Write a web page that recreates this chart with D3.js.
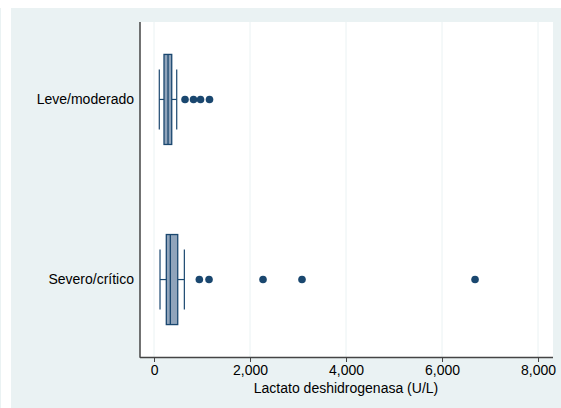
<!DOCTYPE html>
<html lang="es">
  <head>
    <meta charset="UTF-8" />
    <title>LDH box plot</title>
    <script src="https://d3js.org/d3.v7.min.js"></script>
    <style>
      body { margin: 0; background: #fff; }
      text { font-family: "Liberation Sans", Arial, Helvetica, sans-serif; fill: #000; }
    </style>
  </head>
  <body>
    <div id="chart"></div>
    <script>
      // data
      const categories = ["Leve/moderado", "Severo/crítico"];
      const whiskerLo = [110, 125];
      const q1 = [208, 256];
      const median = [292, 340];
      const q3 = [369, 494];
      const whiskerHi = [473, 632];
      const outliers = [
        [646, 823, 969, 1156],
        [944, 1146, 2271, 3083, 6688],
      ];
      const xTicks = [0, 2000, 4000, 6000, 8000];

      const W = 561, H = 408;
      const plot = { left: 140, right: 553, top: 22, bottom: 357 };
      const navy = "#1a476f";

      const svg = d3.select("#chart").append("svg")
        .attr("width", W).attr("height", H);

      // outer background
      svg.append("rect").attr("x", 11).attr("y", 8)
        .attr("width", W - 11).attr("height", H - 8).attr("fill", "#eaf2f3");
      svg.append("line").attr("x1", 0.5).attr("x2", 0.5).attr("y1", 8).attr("y2", H)
        .attr("stroke", "#eaf2f3");
      svg.append("rect").attr("x", plot.left).attr("y", plot.top)
        .attr("width", plot.right - plot.left).attr("height", plot.bottom - plot.top)
        .attr("fill", "#fff");

      var x = d3.scaleLinear().domain([-292, 8312]).range([plot.left, plot.right]);
      var y = d3.scalePoint().domain(categories).range([plot.top, plot.bottom]).padding(0.43);
      const step = y.step();

      // grid
      svg.append("g").selectAll("line").data(xTicks).join("line")
        .attr("x1", d => x(d)).attr("x2", d => x(d))
        .attr("y1", plot.top).attr("y2", plot.bottom)
        .attr("stroke", "#eaf2f3").attr("stroke-width", 1);

      // x axis
      const xAxis = svg.append("g")
        .attr("transform", `translate(0,${plot.bottom})`)
        .call(d3.axisBottom(x).tickValues(xTicks).tickSize(5).tickPadding(3)
          .tickFormat(d3.format(",")));
      xAxis.select(".domain").attr("stroke", "#444").attr("stroke-width", 1.5)
        .attr("d", `M${plot.left},0.5H${plot.right}`);
      xAxis.selectAll(".tick line").attr("stroke", "#444");
      xAxis.selectAll(".tick text").attr("font-size", 14).attr("fill", "#000");

      // y axis line + labels
      svg.append("line").attr("x1", plot.left).attr("x2", plot.left)
        .attr("y1", plot.top).attr("y2", plot.bottom + 0.75)
        .attr("stroke", "#444").attr("stroke-width", 1.5);
      svg.append("g").selectAll("text").data(categories).join("text")
        .attr("x", plot.left - 6).attr("y", d => y(d)).attr("dy", "0.35em")
        .attr("text-anchor", "end").attr("font-size", 14).text(d => d);

      svg.append("text").attr("x", (x(0) + x(8000)) / 2).attr("y", 393)
        .attr("text-anchor", "middle").attr("font-size", 14)
        .text("Lactato deshidrogenasa (U/L)");

      // boxes
      const g = svg.append("g");
      categories.forEach((c, i) => {
        const cy = y(c);
        const bh = step * 0.5, ch = step / 3;
        g.append("line").attr("x1", x(whiskerLo[i])).attr("x2", x(q1[i]))
          .attr("y1", cy).attr("y2", cy).attr("stroke", navy).attr("stroke-width", 1.2);
        g.append("line").attr("x1", x(q3[i])).attr("x2", x(whiskerHi[i]))
          .attr("y1", cy).attr("y2", cy).attr("stroke", navy).attr("stroke-width", 1.2);
        [whiskerLo[i], whiskerHi[i]].forEach(v => {
          g.append("line").attr("x1", x(v)).attr("x2", x(v))
            .attr("y1", cy - ch / 2).attr("y2", cy + ch / 2)
            .attr("stroke", navy).attr("stroke-width", 1.2);
        });
        g.append("rect").attr("x", x(q1[i])).attr("y", cy - bh / 2)
          .attr("width", x(q3[i]) - x(q1[i])).attr("height", bh)
          .attr("fill", "#90a4bb").attr("stroke", navy).attr("stroke-width", 1.3);
        g.append("line").attr("x1", x(median[i])).attr("x2", x(median[i]))
          .attr("y1", cy - bh / 2).attr("y2", cy + bh / 2)
          .attr("stroke", navy).attr("stroke-width", 1.3);
        g.selectAll(null).data(outliers[i]).join("circle")
          .attr("cx", d => x(d)).attr("cy", cy).attr("r", 3.8).attr("fill", navy);
      });
    </script>
  </body>
</html>
